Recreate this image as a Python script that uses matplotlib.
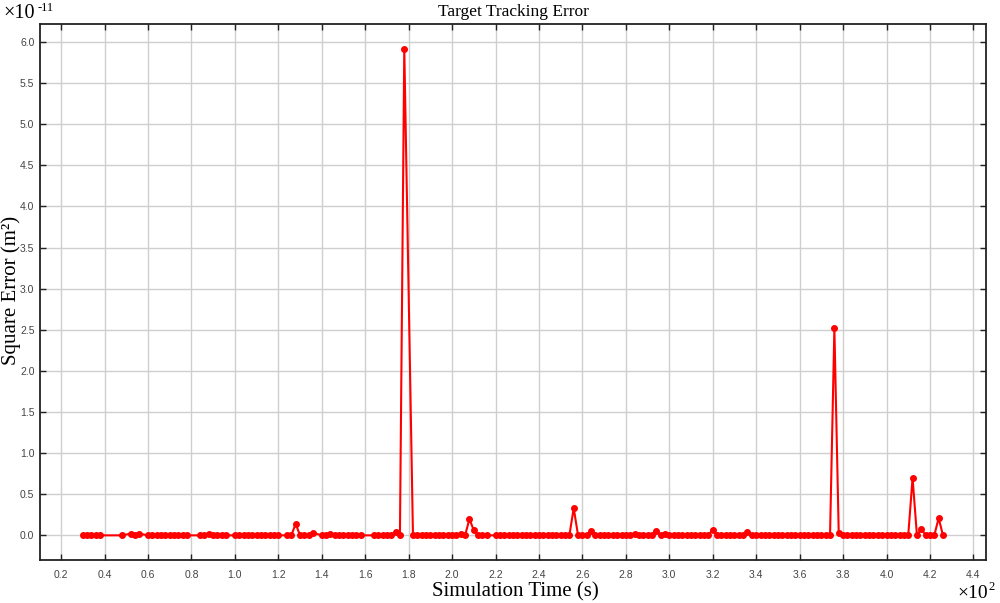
import matplotlib
matplotlib.use("Agg")
import matplotlib.pyplot as plt
from matplotlib.ticker import MultipleLocator, FormatStrFormatter

# Simulation time (s)
times = [30, 32, 34, 36, 38, 48, 52, 54, 56, 60,
         62, 64, 66, 68, 70, 72, 74, 76, 78, 84,
         86, 88, 90, 92, 94, 96, 100, 102, 104, 106,
         108, 110, 112, 114, 116, 118, 120, 124, 126, 128,
         130, 132, 134, 136, 140, 142, 144, 146, 148, 150,
         152, 154, 156, 158, 164, 166, 168, 170, 172, 174,
         176, 178, 182, 184, 186, 188, 190, 192, 194, 196,
         198, 200, 202, 204, 206, 208, 210, 212, 214, 216,
         220, 222, 224, 226, 228, 230, 232, 234, 236, 238,
         240, 242, 244, 246, 248, 250, 252, 254, 256, 258,
         260, 262, 264, 266, 268, 270, 272, 274, 276, 278,
         280, 282, 284, 286, 288, 290, 292, 294, 296, 298,
         300, 302, 304, 306, 308, 310, 312, 314, 316, 318,
         320, 322, 324, 326, 328, 330, 332, 334, 336, 338,
         340, 342, 344, 346, 348, 350, 352, 354, 356, 358,
         360, 362, 364, 366, 368, 370, 372, 374, 376, 378,
         380, 382, 384, 386, 388, 390, 392, 394, 396, 398,
         400, 402, 404, 406, 408, 410, 412, 414, 416, 418,
         420, 422, 424, 426]

# Square error (units of 1e-11 m^2)
errors = [0, 0, 0, 0, 0, 0, 0.02, 0, 0.02, 0,
          0, 0, 0, 0, 0, 0, 0, 0, 0, 0,
          0, 0.02, 0, 0, 0, 0, 0, 0, 0, 0,
          0, 0, 0, 0, 0, 0, 0, 0, 0, 0.14,
          0, 0.01, 0, 0.03, 0, 0, 0.02, 0, 0, 0,
          0, 0, 0, 0, 0, 0, 0, 0, 0, 0.04,
          0, 5.92, 0, 0, 0, 0, 0, 0, 0, 0,
          0, 0, 0, 0.02, 0, 0.20, 0.06, 0, 0, 0,
          0, 0, 0, 0, 0, 0, 0, 0, 0, 0,
          0, 0, 0, 0, 0, 0, 0, 0, 0.33, 0,
          0, 0, 0.05, 0, 0, 0, 0, 0, 0, 0,
          0, 0, 0.02, 0, 0, 0, 0, 0.05, 0, 0.02,
          0, 0, 0, 0, 0, 0, 0, 0, 0, 0,
          0.07, 0, 0, 0, 0, 0, 0, 0, 0.04, 0,
          0, 0, 0, 0, 0, 0, 0, 0, 0, 0,
          0, 0, 0, 0, 0, 0, 0, 0, 2.52, 0.03,
          0, 0, 0, 0, 0, 0, 0, 0, 0, 0,
          0, 0, 0, 0, 0, 0, 0.70, 0, 0.08, 0,
          0, 0, 0.21, 0]

x_scale = 100.0

serif = ["Liberation Serif", "DejaVu Serif"]
sans = ["Liberation Sans", "DejaVu Sans"]

fig = plt.figure(figsize=(10, 6.03), dpi=100)
ax = fig.add_axes([0.040, 0.0713, 0.946, 0.889])

xs = [t / x_scale for t in times]
ax.plot(xs, errors, color="#ff0000", lw=1.5, marker="o", ms=4,
        markerfacecolor="#ff0000", markeredgecolor="#ff0000", zorder=3)

ax.set_xlim(0.103, 4.458)
ax.set_ylim(-0.30, 6.22)
ax.xaxis.set_major_locator(MultipleLocator(0.2))
ax.yaxis.set_major_locator(MultipleLocator(0.5))
ax.xaxis.set_major_formatter(FormatStrFormatter("%.1f"))
ax.yaxis.set_major_formatter(FormatStrFormatter("%.1f"))
ax.grid(True, color="#cfcfcf", lw=1.0, zorder=0)
ax.set_axisbelow(True)

ax.tick_params(direction="in", length=4, width=1, color="#222222",
               labelsize=7.5, labelcolor="#444444",
               top=True, right=True)
ax.tick_params(axis="x", pad=7)
ax.tick_params(axis="y", pad=4)
for lab in ax.get_xticklabels() + ax.get_yticklabels():
    lab.set_family(sans)
for sp in ax.spines.values():
    sp.set_color("#222222")
    sp.set_linewidth(1.3)

ax.set_title("Target Tracking Error", family=serif, fontsize=12.5, pad=6)
fig.text(0.515, 0.019, "Simulation Time (s)", family=serif, fontsize=15,
         ha="center", va="center")
fig.text(0.011, 0.519, "Square Error (m²)", family=serif, fontsize=15,
         ha="center", va="center", rotation=90)

# axis multipliers
fig.text(0.003, 0.970, "×10", family=serif, fontsize=14.5, ha="left", va="baseline")
fig.text(0.038, 0.982, "-11", family=serif, fontsize=9, ha="left", va="baseline")
fig.text(0.957, 0.008, "×10", family=serif, fontsize=14, ha="left", va="baseline")
fig.text(0.988, 0.022, "2", family=serif, fontsize=9, ha="left", va="baseline")

fig.savefig("out.png", dpi=100)
